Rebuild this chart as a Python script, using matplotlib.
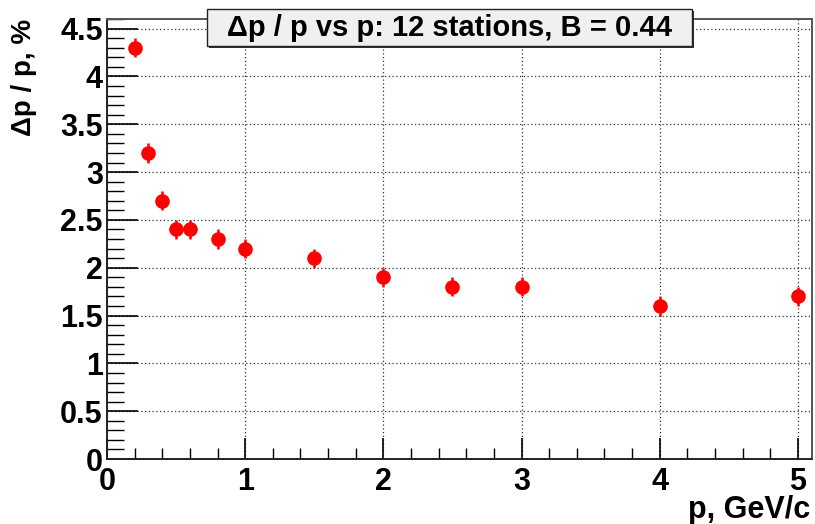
import matplotlib
matplotlib.use("Agg")
import matplotlib.pyplot as plt
from matplotlib.ticker import MultipleLocator, FormatStrFormatter
from matplotlib.patches import Rectangle

# momentum resolution, 12 stations
p_values = [0.2, 0.3, 0.4, 0.5, 0.6, 0.8, 1.0, 1.5, 2.0, 2.5, 3.0, 4.0, 5.0]
dp_over_p = [4.3, 3.2, 2.7, 2.4, 2.4, 2.3, 2.2, 2.1, 1.9, 1.8, 1.8, 1.6, 1.7]
dp_errors = [0.1] * len(p_values)

title_text = "\u0394p / p vs p: 12 stations, B = 0.44"

plt.rcParams['font.family'] = ['Liberation Sans', 'DejaVu Sans']
plt.rcParams['font.weight'] = 'bold'

W, H = 815, 524
fig = plt.figure(figsize=(W / 100, H / 100), dpi=100)
ax = fig.add_axes([0.1313, 0.124, 0.8647, 0.8397])

ax.errorbar(p_values, dp_over_p, yerr=dp_errors, fmt='o', color='red',
            markersize=9.5, elinewidth=1.8, capsize=0, zorder=3)

ax.set_xlim(0, 5.1)
ax.set_ylim(0, 4.6)

ax.xaxis.set_major_locator(MultipleLocator(1))
ax.xaxis.set_minor_locator(MultipleLocator(0.2))
ax.yaxis.set_major_locator(MultipleLocator(0.5))
ax.yaxis.set_minor_locator(MultipleLocator(0.1))
ax.xaxis.set_major_formatter(FormatStrFormatter('%g'))
ax.yaxis.set_major_formatter(FormatStrFormatter('%g'))

ax.tick_params(axis='x', which='major', direction='in', length=15, width=1.2,
               labelsize=22, pad=6)
ax.tick_params(axis='x', which='minor', direction='in', length=8, width=1.0)
ax.tick_params(axis='y', which='major', direction='in', length=22, width=1.2,
               labelsize=22, pad=3)
ax.tick_params(axis='y', which='minor', direction='in', length=12, width=1.0)
for lbl in ax.get_xticklabels() + ax.get_yticklabels():
    lbl.set_fontweight('bold')

ax.grid(True, which='major', linestyle=(0, (1, 2)), color='#333333', linewidth=0.9)

for side in ['left', 'bottom']:
    ax.spines[side].set_linewidth(1.4)
    ax.spines[side].set_color('#222222')
for side in ['top', 'right']:
    ax.spines[side].set_linewidth(1.4)
    ax.spines[side].set_color('#555555')

ax.set_ylabel("\u0394p / p, %", fontsize=20, fontweight='bold')
ax.yaxis.set_label_coords(-0.100, 1.0)
ax.yaxis.label.set_horizontalalignment('right')

ax.set_xlabel("p, GeV/c", fontsize=22, fontweight='bold')
ax.xaxis.set_label_coords(0.9976, -0.134)
ax.xaxis.label.set_horizontalalignment('right')
ax.xaxis.label.set_verticalalignment('baseline')

# title box in ROOT style (with a small drop shadow)
bx0, bx1, by0, by1 = 207 / W, 692 / W, 1 - 46 / H, 1 - 9 / H
fig.patches.append(Rectangle((bx0 + 2 / W, by0 - 2 / H), bx1 - bx0, by1 - by0,
                             transform=fig.transFigure, facecolor='#333333',
                             edgecolor='none', zorder=9))
fig.patches.append(Rectangle((bx0, by0), bx1 - bx0, by1 - by0,
                             transform=fig.transFigure, facecolor='#f0f0f0',
                             edgecolor='#222222', linewidth=1.0, zorder=10))
fig.text((bx0 + bx1) / 2, (by0 + by1) / 2, title_text, ha='center', va='center',
         fontsize=21, fontweight='bold', zorder=11)

fig.savefig("out.png", dpi=100)
